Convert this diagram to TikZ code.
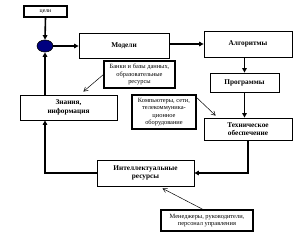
\documentclass[tikz,border=0pt]{standalone}
\usepackage{fontspec}
\setmainfont{Liberation Serif}
\usetikzlibrary{arrows.meta,shapes.geometric}
\definecolor{navy}{HTML}{000080}
\tikzset{
  box/.style={draw,line width=0.8pt,inner sep=0pt,align=center,font=\fontsize{7.3}{8.6}\selectfont\bfseries},
  note/.style={draw,line width=1.1pt,inner sep=0pt,align=center,font=\fontsize{6.4}{7.3}\selectfont},
  flow/.style={line width=1.6pt,-{Triangle[length=4.5pt,width=4.5pt]}},
  thin/.style={line width=0.5pt,-{Straight Barb[length=4pt,width=4.5pt]}}
}
\begin{document}
\begin{tikzpicture}[x=1pt,y=-1pt]
\useasboundingbox (0,0) rectangle (302,240);
\node[note,font=\fontsize{5.8}{7}\selectfont,minimum width=43pt,minimum height=11pt] (goal) at (45.5,11.5) {цели};
\node[draw,ellipse,fill=navy,line width=0.6pt,minimum width=16pt,minimum height=12pt,inner sep=0pt] (circ) at (45,46) {};
\node[box,minimum width=90pt,minimum height=25pt] (model) at (124,45.5) {Модели};
\node[box,minimum width=88pt,minimum height=26pt] (alg) at (248,44) {Алгоритмы};
\node[box,minimum width=69pt,minimum height=19pt] (prog) at (244.5,82.5) {Программы};
\node[box,minimum width=88pt,minimum height=22pt] (tech) at (248,129) {Техническое\\обеспечение};
\node[box,minimum width=97pt,minimum height=25pt] (know) at (68.5,107.5) {Знания,\\информация};
\node[note,minimum width=71pt,minimum height=27pt] (banks) at (139.5,74.5) {Банки и базы данных,\\образовательные\\ресурсы};
\node[note,minimum width=64pt,minimum height=34pt] (comp) at (164,112) {Компьютеры, сети,\\телекоммуника-\\ционное\\оборудование};
\node[box,minimum width=97pt,minimum height=26pt] (intel) at (145.5,173) {Интеллектуальные\\ресурсы};
\node[note,minimum width=92pt,minimum height=21pt] (man) at (207,220.5) {Менеджеры, руководители,\\персонал управления};
\draw[flow] (goal.south) -- (circ.north);
\draw[flow] (circ.east) -- (model.west |- circ.east);
\draw[flow] (model.east |- alg.west) -- (alg.west);
\draw[flow] (prog.north |- alg.south) -- (prog.north);
\draw[flow] (prog.south) -- (prog.south |- tech.north);
\draw[flow] (tech.south) |- (intel.east);
\draw[flow] (intel.west) -| (circ.south |- know.south);
\draw[flow] (circ.south |- know.north) -- (circ.south);
\draw[thin] (banks.west) -- ([xshift=-34pt,yshift=3pt]know.north east);
\draw[thin] ([yshift=-3pt]comp.north east) -- ([xshift=12pt,yshift=2pt]tech.north west);
\draw[thin] ([xshift=-4pt]man.north) -- ([xshift=17pt,yshift=-2pt]intel.south);
\end{tikzpicture}
\end{document}
